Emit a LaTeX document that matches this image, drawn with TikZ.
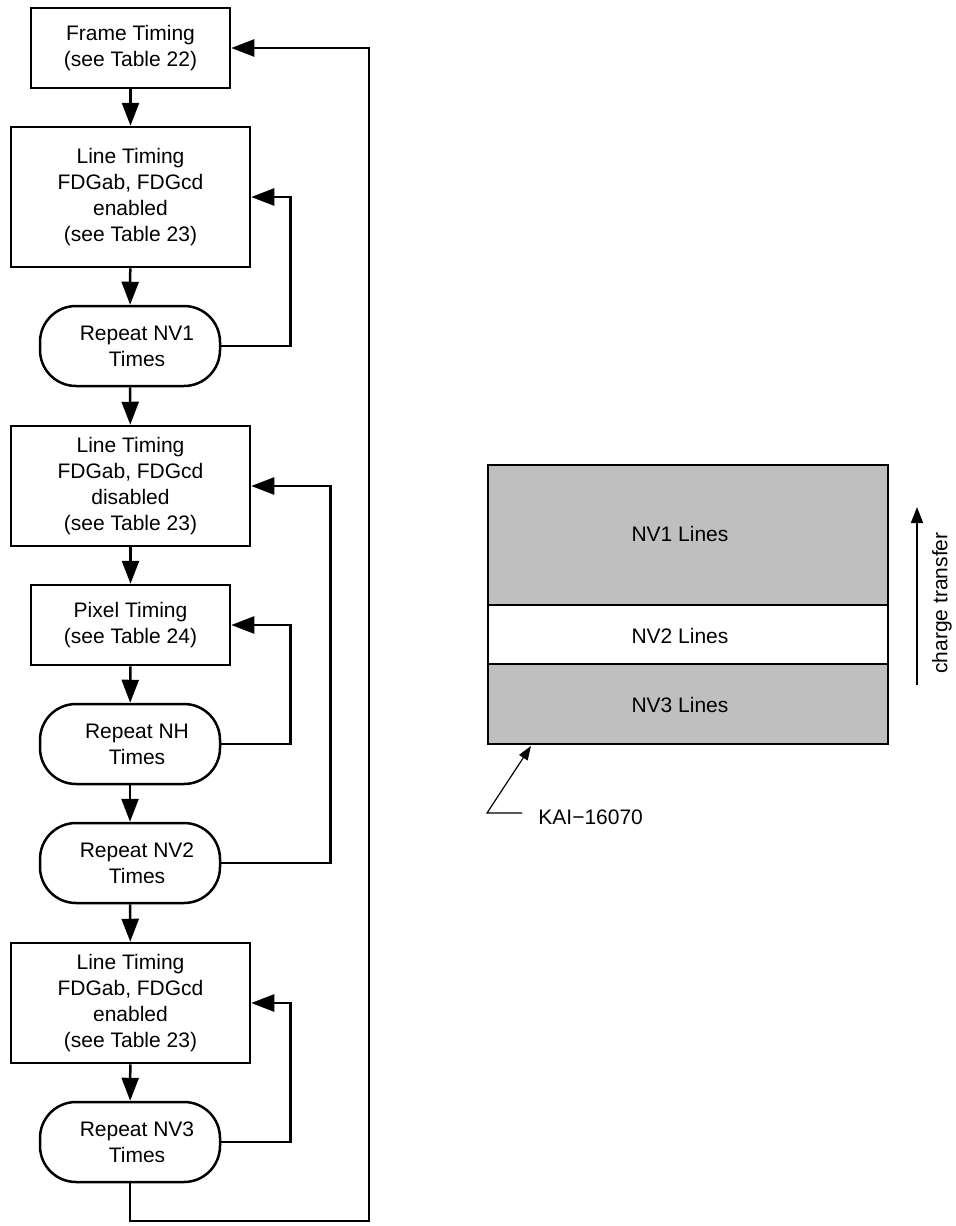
\documentclass[tikz,border=0pt]{standalone}
\usepackage{fontspec}
\setmainfont{Liberation Sans}
\usetikzlibrary{arrows.meta}
\tikzset{
  box/.style={draw, line width=1.25pt, rectangle, align=center, inner sep=0pt,
    font=\fontsize{10.5}{13}\selectfont},
  term/.style={box, rounded corners=18pt, minimum width=90pt, minimum height=40pt},
  flow/.style={line width=1.25pt, -{Triangle[length=11.5pt,width=8.5pt]}},
  plain/.style={line width=1.25pt},
  lbl/.style={font=\fontsize{10.5}{13}\selectfont, inner sep=0pt}
}
\begin{document}
\begin{tikzpicture}[x=0.5pt,y=-0.5pt]
  \useasboundingbox (0,0) rectangle (956,1226);
  % flow chart
  \node[box, minimum width=99.5pt, minimum height=40pt] (frame) at (130.5,48)
    {Frame Timing\\(see Table 22)};
  \node[box, minimum width=119.5pt, minimum height=70pt] (line1) at (130.5,197)
    {Line Timing\\FDGab, FDGcd\\enabled\\(see Table 23)};
  \node[term] (rep1) at (130,346) {\hspace{7pt}Repeat NV1\\\hspace{7pt}Times};
  \node[box, minimum width=119.5pt, minimum height=60pt] (line2) at (130.5,486)
    {Line Timing\\FDGab, FDGcd\\disabled\\(see Table 23)};
  \node[box, minimum width=99.5pt, minimum height=40pt] (pixel) at (130.5,625)
    {Pixel Timing\\(see Table 24)};
  \node[term] (repNH) at (130,744) {\hspace{7pt}Repeat NH\\\hspace{7pt}Times};
  \node[term] (rep2) at (130,863) {\hspace{7pt}Repeat NV2\\\hspace{7pt}Times};
  \node[box, minimum width=119.5pt, minimum height=60pt] (line3) at (130.5,1003)
    {Line Timing\\FDGab, FDGcd\\enabled\\(see Table 23)};
  \node[term] (rep3) at (130,1142) {\hspace{7pt}Repeat NV3\\\hspace{7pt}Times};
  \begin{scope}[flow]
    \draw (frame) -- (line1);
    \draw (line1) -- (rep1);
    \draw (rep1) -- (line2);
    \draw (line2) -- (pixel);
    \draw (pixel) -- (repNH);
    \draw (repNH) -- (rep2);
    \draw (rep2) -- (line3);
    \draw (line3) -- (rep3);
    % loops
    \draw (rep1.east) -- ++(69,0) |- (line1.east);
    \draw (repNH.east) -- ++(69,0) |- (pixel.east);
    \draw (rep2.east) -- ++(109,0) |- (line2.east);
    \draw (rep3.east) -- ++(69,0) |- (line3.east);
    \draw (rep3.south) |- (369,1221) |- (frame.east);
  \end{scope}
  % sensor
  \fill[black!25] (488,465) rectangle (888,605);
  \fill[black!25] (488,664) rectangle (888,744);
  \draw[plain] (488,465) rectangle (888,744);
  \draw[plain] (488,605) -- (888,605);
  \draw[plain] (488,664) -- (888,664);
  \node[lbl] (nv1) at (680,534) {NV1 Lines};
  \node[lbl] (nv2) at (680,636) {NV2 Lines};
  \node[lbl] (nv3) at (680,705) {NV3 Lines};
  \coordinate (ct0) at (917,685);
  \coordinate (ct1) at (917,507);
  \draw[line width=0.8pt, -{Triangle[length=8pt,width=6pt]}] (ct0) -- (ct1);
  \node[lbl, rotate=90] (ct) at (942,603) {charge transfer};
  \node[lbl, anchor=west] (kai) at (538,817) {KAI−16070};
  \coordinate (kaitip) at (531,746);
  \draw[line width=0.6pt, -{Triangle[length=7pt,width=5pt]}] (522,813) -- (487,813) -- (kaitip);
\end{tikzpicture}
\end{document}
